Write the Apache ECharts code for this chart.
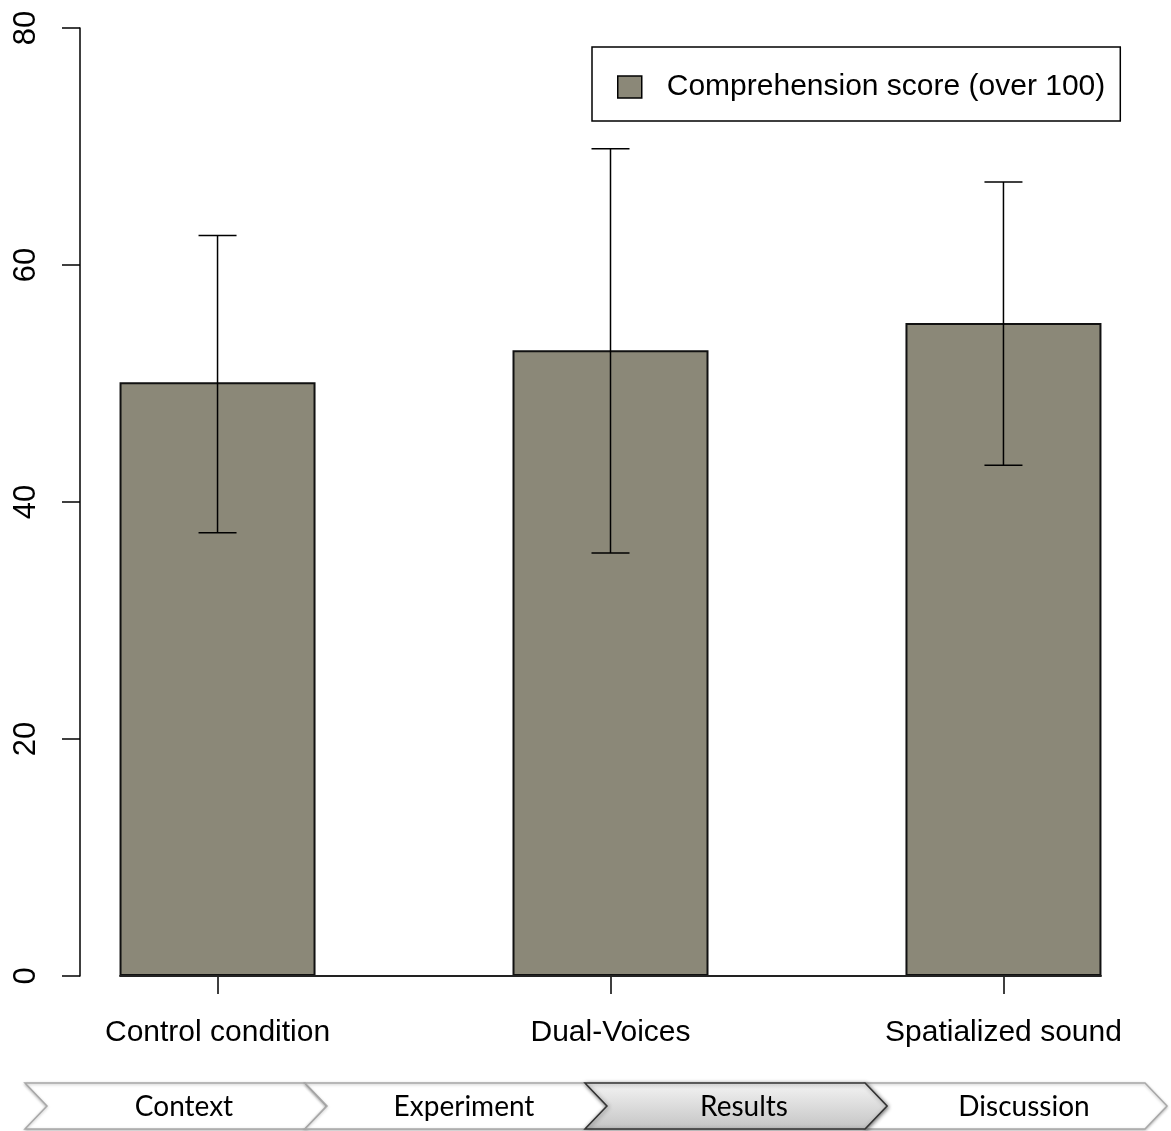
<!DOCTYPE html>
<html><head><meta charset="utf-8">
<script src="https://cdn.jsdelivr.net/npm/echarts@6/dist/echarts.min.js"></script>
<style>html,body{margin:0;padding:0;background:#fff}#c{width:1171px;height:1131px}</style>
</head><body><div id="c"></div>
<script>
const categories = ['Control condition', 'Dual-Voices', 'Spatialized sound'];
const barPositions = [1.5, 3.5, 5.5];
const meanScores = [50.1, 52.8, 55.1];
const upperBounds = [62.5, 69.8, 67.0];
const lowerBounds = [37.4, 35.7, 43.1];
const yTickValues = [0, 20, 40, 60, 80];
const legendLabel = 'Comprehension score (over 100)';
const steps = ['Context', 'Experiment', 'Results', 'Discussion'];
const activeStep = 'Results';

const chart = echarts.init(document.getElementById('c'), null, {renderer: 'canvas'});
const FONT = '"Liberation Sans", Arial, sans-serif';

// breadcrumb decoration
const crumbX0 = 25, crumbW = 280, crumbD = 22, crumbTop = 1083, crumbBot = 1129;
const crumbMid = (crumbTop + crumbBot) / 2;
const graphics = [];
steps.forEach((s, i) => {
  const x0 = crumbX0 + i * crumbW;
  const active = s === activeStep;
  graphics.push({
    type: 'polygon',
    z: active ? 20 : 10,
    shape: {points: [[x0, crumbTop], [x0 + crumbW, crumbTop], [x0 + crumbW + crumbD, crumbMid],
                     [x0 + crumbW, crumbBot], [x0, crumbBot], [x0 + crumbD, crumbMid]]},
    style: active ? {
      fill: new echarts.graphic.LinearGradient(0, 0, 0, 1, [
        {offset: 0, color: '#f4f4f4'}, {offset: 1, color: '#c4c4c4'}]),
      stroke: '#333', lineWidth: 1.5,
      shadowBlur: 4, shadowColor: 'rgba(0,0,0,0.45)', shadowOffsetX: 1, shadowOffsetY: 1
    } : {
      fill: '#ffffff', stroke: '#a8a8a8', lineWidth: 1.5,
      shadowBlur: 3, shadowColor: 'rgba(0,0,0,0.25)', shadowOffsetY: 1
    }
  });
  graphics.push({
    type: 'text', z: 30,
    x: x0 + crumbD + crumbW / 2 - 3, y: crumbMid + 1,
    style: {text: s, font: '28px Lato, "Open Sans", sans-serif', fill: '#000',
            align: 'center', verticalAlign: 'middle'}
  });
});

const option = {
  animation: false,
  backgroundColor: '#fff',
  grid: {left: 80, right: 30, top: 28, bottom: 155, containLabel: false},
  legend: {
    data: [legendLabel],
    left: 592, top: 47,
    padding: [25, 15, 19, 25],
    borderColor: '#000', borderWidth: 1.5,
    icon: 'rect', itemWidth: 24, itemHeight: 22,
    itemStyle: {color: '#8b8878', borderColor: '#000', borderWidth: 1.5},
    textStyle: {fontFamily: FONT, fontSize: 30, color: '#000', padding: [0, 0, 0, 20]},
    selectedMode: false
  },
  xAxis: {
    type: 'value', min: 0.8, max: 6.2,
    axisLine: {show: false},
    splitLine: {show: false},
    axisTick: {show: true, customValues: barPositions, length: 18, lineStyle: {color: '#000', width: 1.5}},
    axisLabel: {
      show: true, customValues: barPositions, margin: 42,
      fontFamily: FONT, fontSize: 30, color: '#000',
      formatter: v => { const i = barPositions.indexOf(v); return i >= 0 ? categories[i] : ''; }
    }
  },
  yAxis: {
    type: 'value', min: 0, max: 80, interval: 20,
    axisLine: {show: true, lineStyle: {color: '#000', width: 1.5}},
    splitLine: {show: false},
    axisTick: {show: true, length: 18, lineStyle: {color: '#000', width: 1.5}},
    axisLabel: {
      rotate: 90, margin: 38, fontFamily: FONT, fontSize: 31, color: '#000',
      customValues: yTickValues
    }
  },
  series: [
    {
      name: legendLabel,
      type: 'bar',
      barWidth: 196,
      data: barPositions.map((x, i) => [x, meanScores[i]]),
      itemStyle: {color: '#8b8878', borderColor: '#111', borderWidth: 2},
      markLine: {
        silent: true, symbol: ['none', 'none'],
        label: {show: false},
        lineStyle: {color: '#222', width: 2, type: 'solid'},
        data: [[{coord: [barPositions[0] - 0.5, 0]}, {coord: [barPositions[barPositions.length - 1] + 0.5, 0]}]]
      }
    },
    {
      name: 'error',
      type: 'custom',
      z: 5,
      data: barPositions.map((x, i) => [x, lowerBounds[i], upperBounds[i]]),
      encode: {x: 0, y: [1, 2]},
      renderItem: (params, api) => {
        const x = api.value(0);
        const lo = api.coord([x, api.value(1)]);
        const hi = api.coord([x, api.value(2)]);
        const hw = 19;
        const st = {stroke: '#000', lineWidth: 1.5};
        return {type: 'group', children: [
          {type: 'line', shape: {x1: lo[0], y1: lo[1], x2: hi[0], y2: hi[1]}, style: st},
          {type: 'line', shape: {x1: hi[0] - hw, y1: hi[1], x2: hi[0] + hw, y2: hi[1]}, style: st},
          {type: 'line', shape: {x1: lo[0] - hw, y1: lo[1], x2: lo[0] + hw, y2: lo[1]}, style: st}
        ]};
      }
    }
  ],
  graphic: graphics
};
chart.setOption(option);
</script></body></html>
